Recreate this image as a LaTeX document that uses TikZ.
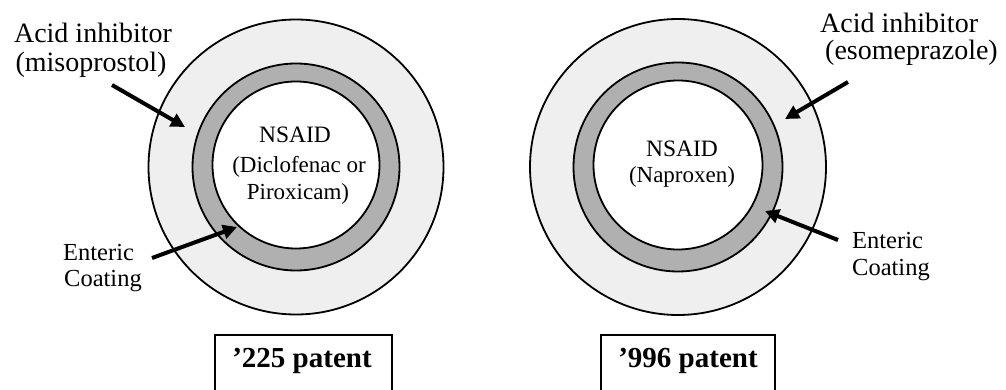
\documentclass[tikz,border=0pt]{standalone}
\usepackage{fontspec}
\setmainfont{Liberation Serif}
\usetikzlibrary{arrows.meta}
\definecolor{outerfill}{HTML}{EFEFEF}
\definecolor{ringfill}{HTML}{B0B0B0}
\begin{document}
\begin{tikzpicture}[x=1pt,y=-1pt,
  layer/.style={circle,draw=black,line width=1.8pt,inner sep=0pt},
  corelbl/.style={font=\fontsize{23}{29}\selectfont,anchor=base,inner sep=0pt},
  corehead/.style={font=\fontsize{23.5}{29}\selectfont,anchor=base,inner sep=0pt},
  acidlbl/.style={font=\fontsize{28}{30}\selectfont,inner sep=0pt},
  entlbl/.style={font=\fontsize{24.5}{28}\selectfont,anchor=base west,inner sep=0pt},
  patentbox/.style={draw=black,line width=1.8pt,minimum width=177pt,minimum height=70pt,inner sep=0pt},
  patentlbl/.style={font=\bfseries\fontsize{29}{30}\selectfont,anchor=base,inner sep=0pt},
  pointer/.style={line width=4pt,-{Triangle[length=14pt,width=14pt]}}]
\clip (0,0) rectangle (1006,390);
\fill[white] (0,0) rectangle (1006,390);
% left tablet
\node[layer,fill=outerfill,minimum size=295pt] (oL) at (296,167) {};
\node[layer,fill=ringfill,minimum size=207pt] (rL) at (296,167) {};
\node[layer,fill=white,minimum size=167pt] (iL) at (296,165) {};
\node[corehead] (nL1) at (295,143) {NSAID};
\node[corelbl] (nL2) at (299,173) {(Diclofenac or};
\node[corelbl] (nL3) at (298,200) {Piroxicam)};
% right tablet
\node[layer,fill=outerfill,minimum size=296pt] (oR) at (678,167) {};
\node[layer,fill=ringfill,minimum size=209pt] (rR) at (678,167) {};
\node[layer,fill=white,minimum size=169pt] (iR) at (678,165) {};
\node[corehead] (nR1) at (682,157) {NSAID};
\node[corelbl] (nR2) at (682,183) {(Naproxen)};
% labels
\node[acidlbl,anchor=base] (acidL1) at (93,43) {Acid inhibitor};
\node[acidlbl,anchor=base] (acidL2) at (91,72) {(misoprostol)};
\node[acidlbl,anchor=base west] (acidR1) at (820,33) {Acid inhibitor};
\node[acidlbl,anchor=base west] (acidR2) at (825,60) {(esomeprazole)};
\node[entlbl] (entL1) at (63,260) {Enteric};
\node[entlbl] (entL2) at (64,286) {Coating};
\node[entlbl] (entR1) at (852,248) {Enteric};
\node[entlbl] (entR2) at (852,275) {Coating};
% arrows
\coordinate (aLt) at (112,85);  \coordinate (aLh) at (185,127);
\coordinate (eLt) at (152,258); \coordinate (eLh) at (237,227);
\coordinate (aRt) at (848,82);  \coordinate (aRh) at (785,119);
\coordinate (eRt) at (838,240); \coordinate (eRh) at (765,211);
\draw[pointer] (aLt) -- (aLh);
\draw[pointer] (eLt) -- (eLh);
\draw[pointer] (aRt) -- (aRh);
\draw[pointer] (eRt) -- (eRh);
% patent boxes
\node[patentbox,anchor=north] (bL) at (303.5,334) {};
\node[patentlbl] (pL) at (302,367) {’225 patent};
\node[patentbox,anchor=north,minimum width=174pt] (bR) at (688,334) {};
\node[patentlbl] (pR) at (688,367) {’996 patent};
\end{tikzpicture}
\end{document}
